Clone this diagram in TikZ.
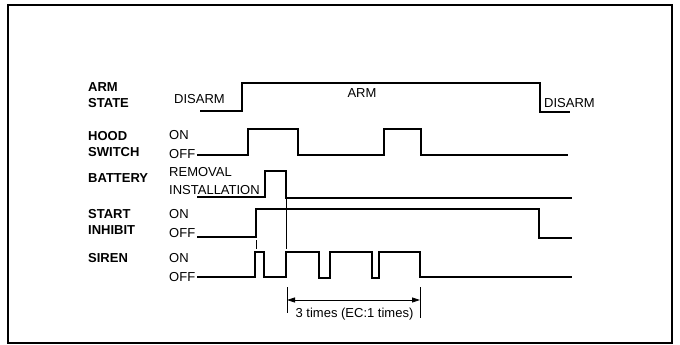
\documentclass[tikz,border=0pt]{standalone}
\usepackage{fontspec}
\setmainfont{Liberation Sans}
\usetikzlibrary{arrows.meta, positioning}

\begin{document}
\begin{tikzpicture}[x=1pt,y=-1pt,
  sig/.style={line width=1.3pt,line join=miter},
  guide/.style={line width=0.5pt},
  lbl/.style={font=\fontsize{13}{16}\selectfont\bfseries,align=left,anchor=west,inner sep=0pt},
  lvl/.style={font=\fontsize{13}{15}\selectfont,anchor=west,inner sep=0pt},
  dim/.style={line width=0.8pt,{Triangle[length=8pt,width=5pt]}-{Triangle[length=8pt,width=5pt]}},
]
\useasboundingbox (0,0) rectangle (680,345);
\draw[line width=1.8pt] (8,5) rectangle (672,343);

\node[lbl] (armstate) at (88,95.5) {ARM\\STATE};
\node[lbl] (hoodswitch) at (88,144.5) {HOOD\\SWITCH};
\node[lbl] (battery) at (88,178) {BATTERY};
\node[lbl] (startinhibit) at (88,222) {START\\INHIBIT};
\node[lbl] (siren) at (88,258) {SIREN};

\node[lvl] (disarmL) at (174,99) {DISARM};
\node[lvl,anchor=center] (arm) at (362,93) {ARM};
\node[lvl] (disarmR) at (544,103) {DISARM};
\node[lvl] (hoodon) at (169,135.5) {ON};
\node[lvl] (hoodoff) at (169,154) {OFF};
\node[lvl] (removal) at (169,172) {REMOVAL};
\node[lvl] (installation) at (169,190) {INSTALLATION};
\node[lvl] (starton) at (169,214.5) {ON};
\node[lvl] (startoff) at (169,233) {OFF};
\node[lvl] (sirenon) at (169,258) {ON};
\node[lvl] (sirenoff) at (169,277.5) {OFF};

\draw[sig] (200,111) -- (242,111) -- (242,83) -- (540,83) -- (540,112) -- (570,112);
\draw[sig] (197,155) -- (248,155) -- (248,129) -- (298,129) -- (298,155) -- (384,155)
  -- (384,129) -- (421,129) -- (421,155) -- (568,155);
\draw[sig] (197,197) -- (265,197) -- (265,171) -- (286,171) -- (286,198) -- (572,198);
\draw[sig] (197,237) -- (256,237) -- (256,209) -- (539,209) -- (539,238) -- (572,238);
\draw[sig] (197,277) -- (255,277) -- (255,252) -- (264,252) -- (264,277) -- (286,277)
  -- (286,252) -- (319,252) -- (319,278) -- (330,278) -- (330,252) -- (372,252)
  -- (372,278) -- (379,278) -- (379,252) -- (420,252) -- (420,277) -- (572,277);

\draw[guide] (256,240) -- (256,249);
\draw[guide] (286,199) -- (286,249);

\coordinate (dimL) at (287,300);
\coordinate (dimR) at (420,300);
\draw[guide,line width=0.8pt] (287,287) -- (287,313);
\draw[guide,line width=0.8pt] (420,287) -- (420,318);
\draw[dim] (dimL) -- (dimR);
\node[lvl,anchor=center] (times) at (354.5,314) {3 times (EC:1 times)};
\end{tikzpicture}
\end{document}
